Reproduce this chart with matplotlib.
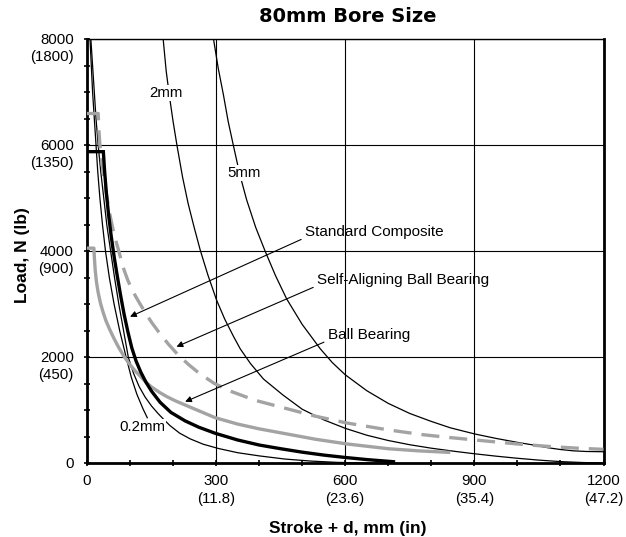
import matplotlib
matplotlib.use("Agg")
import matplotlib.pyplot as plt
from matplotlib.ticker import MultipleLocator

plt.rcParams['font.family'] = ['Liberation Sans', 'DejaVu Sans']

# load limits, N, against stroke + d, mm
composite_x = [0, 38, 41, 45, 50, 56, 63, 70, 78, 86, 95, 104, 114, 125, 137, 150,
               170, 195, 228, 260, 298, 350, 400, 450, 500, 550, 600, 650, 712]
composite_y = [5880, 5880, 5500, 5100, 4700, 4300, 3900, 3550, 3170, 2820, 2480, 2180,
               1930, 1720, 1530, 1360, 1150, 960, 800, 680, 566, 440, 345, 275, 210,
               155, 110, 70, 30]

ball_x = [0, 16, 17, 19, 22, 26, 31, 37, 44, 53, 63, 74, 85, 97, 110, 123, 137, 150,
          168, 185, 205, 228, 260, 298, 350, 400, 460, 530, 604, 700, 770, 844]
ball_y = [4060, 4060, 3900, 3650, 3420, 3220, 3030, 2860, 2690, 2520, 2350, 2180,
          2030, 1890, 1760, 1650, 1530, 1440, 1340, 1260, 1180, 1100, 990, 860, 740,
          650, 560, 455, 365, 275, 235, 205]

self_align_x = [0, 26, 27.5, 30, 35, 40, 46, 53, 60, 67, 74, 80, 86, 95, 104, 113, 123,
                135, 150, 170, 190, 210, 235, 259, 295, 337, 390, 460, 530, 604, 700,
                780, 844, 921, 1000, 1077, 1140, 1200]
self_align_y = [6600, 6600, 6300, 6000, 5650, 5350, 5030, 4700, 4430, 4200, 4000, 3820,
                3650, 3450, 3290, 3150, 3010, 2850, 2660, 2440, 2240, 2060, 1870, 1710,
                1510, 1350, 1190, 1040, 890, 760, 630, 540, 485, 425, 365, 315, 285, 263]

# deflection curves
defl_02_x = [7, 10, 13, 17, 21, 25, 30, 36, 43, 52, 63, 76, 91, 103, 116, 130, 140]
defl_02_y = [8000, 7500, 7000, 6500, 6000, 5500, 5000, 4500, 4000, 3500, 3000, 2500,
             2000, 1620, 1300, 1030, 860]

defl_b_x = [9, 13, 17, 21, 26, 32, 39, 46, 55, 64, 74, 85, 96, 108, 121, 135, 150, 165,
            178, 193, 215, 240, 270, 305, 350, 400, 460, 520, 580, 650, 720]
defl_b_y = [8000, 7500, 7000, 6500, 6000, 5500, 5000, 4500, 4000, 3500, 3000, 2500, 2000,
            1700, 1450, 1250, 1080, 940, 830, 710, 570, 460, 360, 280, 200, 140, 80, 42,
            18, 5, 0]

defl_2_x = [177, 184, 192, 200, 209, 222, 235, 249, 263, 281, 301, 320, 340, 356, 380,
            410, 455, 500, 550, 600, 650, 700, 750, 800, 850, 900, 950, 1000, 1050,
            1100, 1150, 1200]
defl_2_y = [8000, 7400, 6900, 6450, 6000, 5400, 4900, 4450, 4025, 3550, 3080, 2720, 2400,
            2160, 1880, 1590, 1290, 1020, 820, 660, 530, 430, 350, 285, 230, 180, 135,
            95, 60, 32, 15, 5]

defl_5_x = [294, 305, 317, 328, 340, 355, 371, 392, 414, 438, 464, 500, 542, 570, 600,
            650, 700, 750, 800, 844, 900, 950, 1000, 1037, 1070, 1100, 1130, 1160, 1200]
defl_5_y = [8000, 7450, 6950, 6450, 6000, 5450, 4968, 4450, 4000, 3540, 3100, 2620, 2160,
            1900, 1670, 1370, 1130, 940, 790, 670, 555, 470, 395, 345, 295, 260, 235,
            223, 218]

x_ticks = [0, 300, 600, 900, 1200]
x_tick_labels = ["0", "300\n(11.8)", "600\n(23.6)", "900\n(35.4)", "1200\n(47.2)"]
y_ticks = [0, 2000, 4000, 6000, 8000]
y_tick_labels = ["0", "2000\n(450)", "4000\n(900)", "6000\n(1350)", "8000\n(1800)"]

grey = "#a3a3a3"

fig = plt.figure(figsize=(6.26, 5.37), dpi=100)
ax = fig.add_axes([87 / 626, 1 - 463.3 / 537, (603.5 - 87) / 626, (463.3 - 39.3) / 537])
ax.set_xlim(0, 1200)
ax.set_ylim(0, 8000)

ax.plot(defl_b_x, defl_b_y, color="black", lw=0.9, zorder=3)
ax.plot(defl_02_x, defl_02_y, color="black", lw=0.9, zorder=3)
ax.plot(defl_2_x, defl_2_y, color="black", lw=0.9, zorder=3)
ax.plot(defl_5_x, defl_5_y, color="black", lw=0.9, zorder=3)
ax.plot(ball_x, ball_y, color=grey, lw=2.4, solid_capstyle="butt", zorder=4)
ax.plot(self_align_x, self_align_y, color=grey, lw=2.4, dashes=(5.4, 3), zorder=4)
ax.plot(composite_x, composite_y, color="black", lw=2.4, solid_joinstyle="miter", zorder=5)

# curve labels sit on the lines
lbl_box = dict(facecolor="white", edgecolor="none", pad=0.6)
ax.text(184, 6990, "2mm", fontsize=10.8, ha="center", va="center", bbox=lbl_box, zorder=6)
ax.text(364, 5480, "5mm", fontsize=10.8, ha="center", va="center", bbox=lbl_box, zorder=6)
ax.text(129, 680, "0.2mm", fontsize=10.8, ha="center", va="center", bbox=lbl_box, zorder=6)

arrow = dict(arrowstyle="-|>", color="black", lw=0.8, mutation_scale=9,
             relpos=(0, 0.1), shrinkA=1, shrinkB=0)
ax.annotate("Standard Composite", xy=(100, 2766), xytext=(507, 4364),
            fontsize=11, ha="left", va="center", arrowprops=arrow, zorder=7)
ax.annotate("Self-Aligning Ball Bearing", xy=(208, 2200), xytext=(535, 3458),
            fontsize=11, ha="left", va="center", arrowprops=arrow, zorder=7)
ax.annotate("Ball Bearing", xy=(228, 1162), xytext=(560, 2424),
            fontsize=11, ha="left", va="center", arrowprops=arrow, zorder=7)

# axes, ticks and grid
ax.xaxis.set_major_locator(MultipleLocator(300))
ax.xaxis.set_minor_locator(MultipleLocator(100))
ax.yaxis.set_major_locator(MultipleLocator(2000))
ax.yaxis.set_minor_locator(MultipleLocator(500))
ax.grid(which="major", color="black", lw=0.8)
ax.set_axisbelow(True)
ax.tick_params(which="both", direction="inout", length=5, width=1.2,
               top=False, right=False)
ax.set_xticks(x_ticks)
ax.set_xticklabels(x_tick_labels, fontsize=10.8)
ax.tick_params(axis="x", pad=5.5)
for t in ax.get_xticklabels():
    t.set_linespacing(1.3)
ax.set_yticklabels([])
for v, s in zip(y_ticks, y_tick_labels):
    ax.annotate(s, xy=(0, v), xycoords=("axes fraction", "data"),
                xytext=(-9.5, 4.8), textcoords="offset points",
                ha="right", va="top", fontsize=10.8, linespacing=1.3)

for side in ["left", "bottom", "right"]:
    ax.spines[side].set_linewidth(2)
ax.spines["top"].set_linewidth(1)

fig.text(348 / 626, 1 - 17 / 537, "80mm Bore Size", fontsize=14, fontweight="heavy",
         family="DejaVu Sans", ha="center", va="center")
fig.text(348 / 626, 1 - 528 / 537, "Stroke + d, mm (in)",
         fontsize=12.5, fontweight="bold", ha="center", va="center")
fig.text(23 / 626, 1 - 255 / 537, "Load, N (lb)", fontsize=12.5,
         fontweight="bold", rotation=90, ha="center", va="center")

fig.savefig("out.png", dpi=100)
